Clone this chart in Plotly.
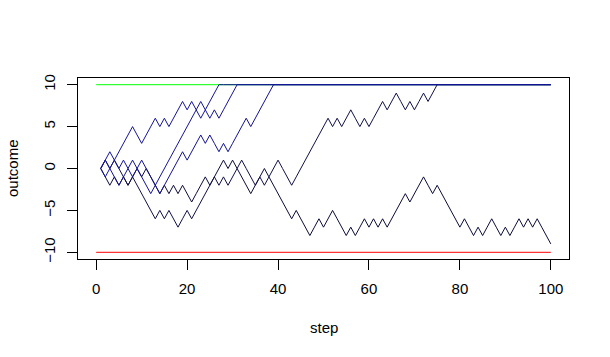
import plotly.graph_objects as go

# step index of every walk (1..100)
steps = list(range(1, 101))

# random walks (value at each step 1..100)
walk_a = [0, 1, 2, 1, 2, 3, 4, 5, 4, 3, 4, 5, 6, 5, 6, 5, 6, 7, 8, 7,
          8, 7, 6, 7, 8, 9, 10, 10, 10, 10, 10, 10, 10, 10, 10, 10, 10, 10, 10, 10,
          10, 10, 10, 10, 10, 10, 10, 10, 10, 10, 10, 10, 10, 10, 10, 10, 10, 10, 10, 10,
          10, 10, 10, 10, 10, 10, 10, 10, 10, 10, 10, 10, 10, 10, 10, 10, 10, 10, 10, 10,
          10, 10, 10, 10, 10, 10, 10, 10, 10, 10, 10, 10, 10, 10, 10, 10, 10, 10, 10, 10]
walk_b = [0, -1, 0, 1, 0, 1, 0, 1, 0, -1, -2, -3, -2, -1, 0, 1, 2, 3, 4, 5,
          6, 7, 8, 7, 6, 7, 6, 7, 8, 9, 10, 10, 10, 10, 10, 10, 10, 10, 10, 10,
          10, 10, 10, 10, 10, 10, 10, 10, 10, 10, 10, 10, 10, 10, 10, 10, 10, 10, 10, 10,
          10, 10, 10, 10, 10, 10, 10, 10, 10, 10, 10, 10, 10, 10, 10, 10, 10, 10, 10, 10,
          10, 10, 10, 10, 10, 10, 10, 10, 10, 10, 10, 10, 10, 10, 10, 10, 10, 10, 10, 10]
walk_c = [0, 1, 0, -1, -2, -1, 0, -1, 0, 1, 0, -1, -2, -3, -2, -1, 0, 1, 2, 1,
          2, 3, 4, 3, 4, 3, 2, 3, 2, 3, 4, 5, 6, 5, 6, 7, 8, 9, 10, 10,
          10, 10, 10, 10, 10, 10, 10, 10, 10, 10, 10, 10, 10, 10, 10, 10, 10, 10, 10, 10,
          10, 10, 10, 10, 10, 10, 10, 10, 10, 10, 10, 10, 10, 10, 10, 10, 10, 10, 10, 10,
          10, 10, 10, 10, 10, 10, 10, 10, 10, 10, 10, 10, 10, 10, 10, 10, 10, 10, 10, 10]
walk_d = [0, 1, 0, 1, 0, -1, -2, -1, -2, -3, -4, -5, -6, -5, -6, -5, -6, -7, -6, -5,
          -6, -5, -4, -3, -2, -1, -2, -1, -2, -1, 0, 1, 0, -1, -2, -1, -2, -1, 0, 1,
          0, -1, -2, -1, 0, 1, 2, 3, 4, 5, 6, 5, 6, 5, 6, 7, 6, 5, 6, 5,
          6, 7, 8, 7, 8, 9, 8, 7, 8, 7, 8, 9, 8, 9, 10, 10, 10, 10, 10, 10,
          10, 10, 10, 10, 10, 10, 10, 10, 10, 10, 10, 10, 10, 10, 10, 10, 10, 10, 10, 10]
walk_e = [0, -1, -2, -1, -2, -1, -2, -1, 0, -1, 0, -1, -2, -3, -2, -3, -2, -3, -2, -3,
          -4, -3, -2, -1, -2, -1, 0, 1, 0, 1, 0, -1, -2, -3, -2, -1, 0, -1, -2, -3,
          -4, -5, -6, -5, -6, -7, -8, -7, -6, -7, -6, -5, -6, -7, -8, -7, -8, -7, -6, -7,
          -6, -7, -6, -7, -6, -5, -4, -3, -4, -3, -2, -1, -2, -3, -2, -3, -4, -5, -6, -7,
          -6, -7, -8, -7, -8, -7, -6, -7, -8, -7, -8, -7, -6, -7, -6, -7, -6, -7, -8, -9]

# absorbing barriers
barrier_x = [0, 100]
upper_barrier = [10, 10]
lower_barrier = [-10, -10]

x_ticks = [0, 20, 40, 60, 80, 100]
y_ticks = [-10, -5, 0, 5, 10]

FONT = "Liberation Sans, Arial, sans-serif"

fig = go.Figure()
fig.add_trace(go.Scatter(x=barrier_x, y=upper_barrier, mode="lines",
                         line=dict(color="#00ff00", width=1)))
fig.add_trace(go.Scatter(x=barrier_x, y=lower_barrier, mode="lines",
                         line=dict(color="#ff0000", width=1)))
for walk, col in [(walk_e, "#0c0c3a"), (walk_d, "#101048"),
                  (walk_c, "#121290"), (walk_b, "#141496"), (walk_a, "#141496")]:
    fig.add_trace(go.Scatter(x=steps, y=walk, mode="lines",
                             line=dict(color=col, width=1)))

axis_common = dict(showgrid=False, zeroline=False, showline=True, mirror=True,
                   linecolor="black", linewidth=1, ticks="outside", ticklen=10,
                   tickwidth=1, tickcolor="black",
                   tickfont=dict(family=FONT, size=15, color="black"))
fig.update_xaxes(range=[-4, 104], tickvals=x_ticks, ticklabelstandoff=6, **axis_common)
fig.update_yaxes(range=[-10.8, 10.8], tickvals=y_ticks, tickangle=-90,
                 ticklabelstandoff=6, **axis_common)

fig.add_annotation(text="step", xref="paper", yref="paper", x=0.5, y=-0.376,
                   showarrow=False, xanchor="center", yanchor="middle",
                   font=dict(family=FONT, size=15, color="black"))
fig.add_annotation(text="outcome", xref="paper", yref="paper", x=-0.1334, y=0.5,
                   showarrow=False, xanchor="center", yanchor="middle", textangle=-90,
                   font=dict(family=FONT, size=15, color="black"))

fig.update_layout(width=610, height=357, showlegend=False,
                  margin=dict(l=78, r=41, t=78, b=98),
                  paper_bgcolor="white", plot_bgcolor="white")

fig.write_html("out.html", config={"displayModeBar": False},
               post_script="document.body.style.margin='0';")
